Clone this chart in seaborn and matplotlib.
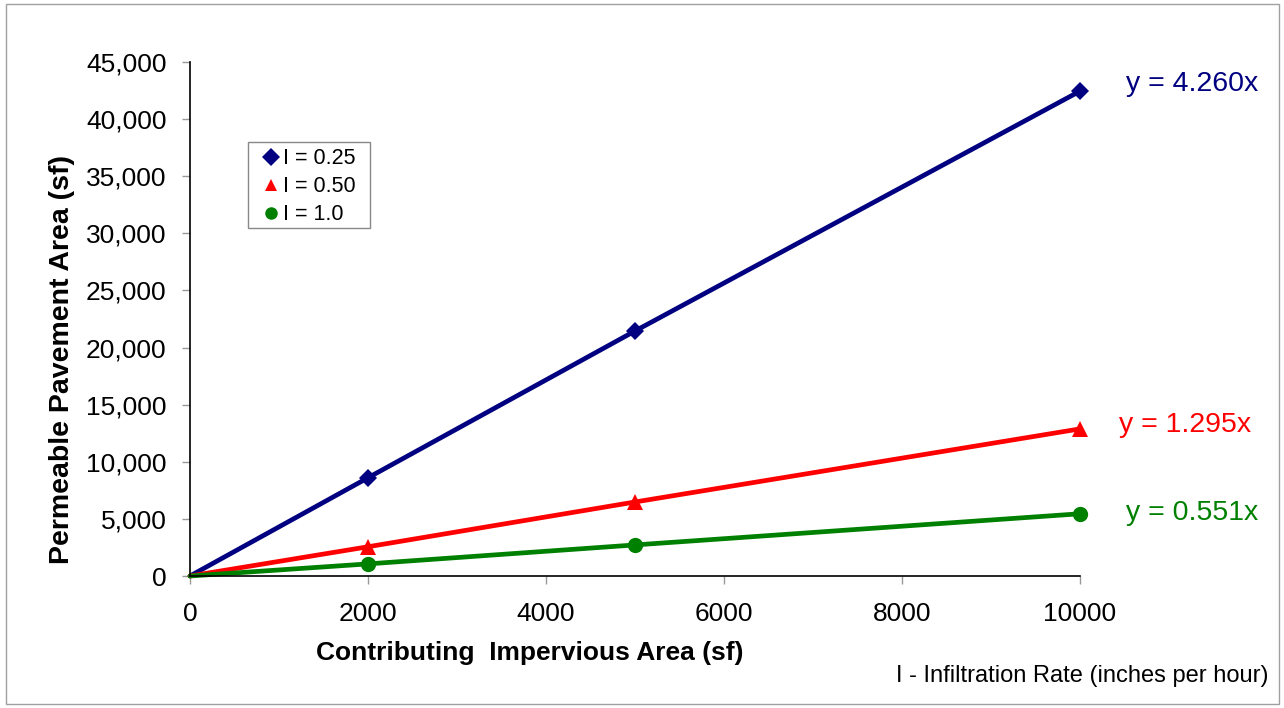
import matplotlib
matplotlib.use("Agg")
import matplotlib.pyplot as plt
import seaborn as sns
import pandas as pd
from matplotlib.patches import Rectangle

# Data
impervious_area = [0, 2000, 5000, 10000]
pave_i025 = [0, 8600, 21450, 42450]
pave_i050 = [0, 2560, 6480, 12880]
pave_i100 = [0, 1060, 2720, 5450]
series_names = ["I = 0.25", "I = 0.50", "I = 1.0"]
equations = ["y = 4.260x", "y = 1.295x", "y = 0.551x"]
x_ticks = [0, 2000, 4000, 6000, 8000, 10000]
y_ticks = [0, 5000, 10000, 15000, 20000, 25000, 30000, 35000, 40000, 45000]

colors = {"I = 0.25": "#000080", "I = 0.50": "#FF0000", "I = 1.0": "#008000"}
markers = {"I = 0.25": "D", "I = 0.50": "^", "I = 1.0": "o"}
msizes = {"I = 0.25": 9.5, "I = 0.50": 11.5, "I = 1.0": 11}

df = pd.DataFrame({
    "x": impervious_area * 3,
    "y": pave_i025 + pave_i050 + pave_i100,
    "series": sum([[n] * len(impervious_area) for n in series_names], []),
})

sns.set_theme(style="white")
plt.rcParams["font.family"] = ["Liberation Sans", "DejaVu Sans"]
plt.rcParams["text.color"] = "#000000"
plt.rcParams["axes.labelcolor"] = "#000000"

fig = plt.figure(figsize=(12.84, 7.08), dpi=100)
ax = fig.add_axes([190/1284, 1-576/708, 890/1284, 514/708])

sns.lineplot(data=df, x="x", y="y", hue="series", style="series",
             palette=colors, markers=markers, dashes=False,
             linewidth=3.4, markersize=11, markeredgewidth=0, ax=ax, legend=True)

for line, name in zip(ax.lines, series_names):
    line.set_markevery([1, 2, 3])
    line.set_markersize(msizes[name])
    line.set_clip_on(False)

ax.set_xlim(0, 10000)
ax.set_ylim(0, 45000)
ax.set_xticks(x_ticks)
ax.set_yticks(y_ticks)
ax.set_xticklabels([str(t) for t in x_ticks])
ax.set_yticklabels([f"{t:,}" for t in y_ticks])
ax.tick_params(axis="both", labelsize=19, labelcolor="#000000", length=6, width=1,
               direction="out", left=True, bottom=True, color="#999999")
ax.tick_params(axis="x", pad=13)
ax.tick_params(axis="y", pad=11)

sns.despine(ax=ax)
for s in ["left", "bottom"]:
    ax.spines[s].set_color("#000000")
    ax.spines[s].set_linewidth(1.2)

ax.set_xlabel("Contributing  Impervious Area (sf)", fontsize=19, fontweight="bold")
ax.xaxis.set_label_coords((530-190)/890, (576-653)/514)
ax.xaxis.label.set_va("center")
ax.set_ylabel("Permeable Pavement Area (sf)", fontsize=20.5, fontweight="bold")
ax.yaxis.set_label_coords((62-190)/890, (576-359)/514)
ax.yaxis.label.set_va("center")

leg = ax.legend(loc="upper left", bbox_to_anchor=((258-190)/890, (576-144)/514),
                fontsize=15.5, frameon=False,
                handlelength=0.8, handletextpad=0.15, borderpad=0.2,
                labelspacing=0.32, borderaxespad=0)
for h in leg.legend_handles:
    h.set_linestyle("none")
    h.set_markersize(9)
for t in leg.get_texts():
    t.set_color("#000000")
# legend frame
fig.patches.append(Rectangle((248/1284, 1-228/708), (370-248)/1284, (228-142)/708,
                             transform=fig.transFigure, fill=False,
                             edgecolor="#888888", linewidth=1, zorder=5))

eq_y = [84, 425, 513]
eq_x = [1126, 1119, 1126]
for eq, c, yy, xx in zip(equations, series_names, eq_y, eq_x):
    fig.text(xx/1284, 1-yy/708, eq, color=colors[c], fontsize=20.5, va="center", ha="left")

fig.text(1268/1284, 1-676/708, "I - Infiltration Rate (inches per hour)",
         fontsize=17, ha="right", va="center", color="#000000")

fig.patches.append(Rectangle((6/1284, 4/708), (1279-6)/1284, (704-4)/708,
                             transform=fig.transFigure, fill=False,
                             edgecolor="#A0A0A0", linewidth=1))

fig.savefig("out.png", dpi=100)
